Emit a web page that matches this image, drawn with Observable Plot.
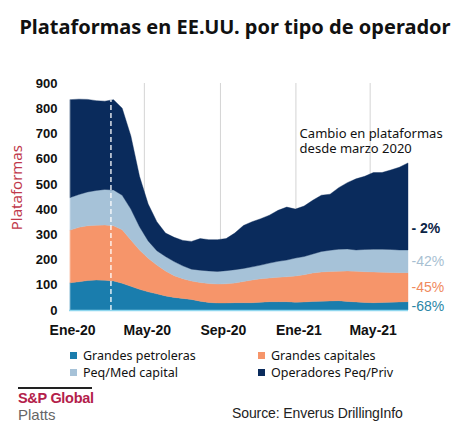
<!DOCTYPE html>
<html><head><meta charset="utf-8">
<script src="https://cdn.jsdelivr.net/npm/d3@7"></script>
<script src="https://cdn.jsdelivr.net/npm/@observablehq/plot@0.6"></script>
<style>
body{margin:0;width:470px;height:430px;position:relative;background:#fff;overflow:hidden;font-family:"Noto Sans",sans-serif}
#title{position:absolute;left:0;top:13px;width:470px;text-align:center;font-weight:700;font-size:20px;color:#111;letter-spacing:0px}
#chart{position:absolute;left:0;top:55px}
.lg{position:absolute;font-size:12.5px;color:#111;line-height:16px;white-space:nowrap}
.lg i{display:inline-block;width:7px;height:7px;margin-right:6px;vertical-align:1px}
#brandline{position:absolute;left:18px;top:387px;width:74px;height:2px;background:#222}
#brand1{position:absolute;left:18px;top:389px;font-family:"Liberation Sans",Arial,sans-serif;font-weight:700;font-size:14.5px;color:#b3204a;line-height:18px;letter-spacing:-0.3px}
#brand2{position:absolute;left:18px;top:406px;font-family:"Liberation Sans",Arial,sans-serif;font-size:15px;color:#666;line-height:18px}
#source{position:absolute;left:232px;top:404px;font-family:"Liberation Sans",Arial,sans-serif;font-size:14px;color:#222;line-height:18px;letter-spacing:-0.1px}
</style></head>
<body>
<div id="title">Plataformas en EE.UU. por tipo de operador</div>
<div id="chart"></div>
<div id="legend"></div>
<div id="brandline"></div>
<div id="brand1">S&amp;P Global</div>
<div id="brand2">Platts</div>
<div id="source">Source: Enverus DrillingInfo</div>
<script>
const series = ["Grandes petroleras","Grandes capitales","Peq/Med capital","Operadores Peq/Priv"];
const colors = ["#1a7dad","#f6956a","#a6c2d8","#0a2b5c"];
const dates = ["2020-01-03","2020-01-17","2020-01-31","2020-02-14","2020-02-28","2020-03-13","2020-03-27","2020-04-10","2020-04-24","2020-05-08","2020-05-22","2020-06-05","2020-06-19","2020-07-03","2020-07-17","2020-07-31","2020-08-14","2020-08-28","2020-09-11","2020-09-25","2020-10-09","2020-10-23","2020-11-06","2020-11-20","2020-12-04","2020-12-18","2021-01-01","2021-01-15","2021-01-29","2021-02-12","2021-02-26","2021-03-12","2021-03-26","2021-04-09","2021-04-23","2021-05-07","2021-05-21","2021-06-04","2021-06-18","2021-07-02"];
const petroleras = [108,112,117,119,118,115,106,94,82,72,64,56,50,46,42,35,30,28,28,29,29,29,31,33,33,33,31,32,34,35,36,37,34,32,30,29,30,31,32,33];
const grandesCapitales = [209,216,217,217,219,219,212,184,156,133,114,99,86,78,73,74,75,75,76,78,84,90,93,94,97,99,104,108,113,116,117,117,121,122,122,122,120,118,116,115];
const peqMedCapital = [129,130,134,138,141,142,137,122,92,69,57,57,56,51,47,49,50,50,52,53,52,52,54,59,63,66,71,72,75,81,84,87,87,84,88,90,91,91,90,90];
const operadoresPeqPriv = [388,378,367,356,350,358,345,290,200,146,115,93,96,101,110,125,124,126,127,145,170,179,184,190,202,210,194,200,213,223,222,244,263,282,290,304,304,315,328,345];
const values = [petroleras, grandesCapitales, peqMedCapital, operadoresPeqPriv];
const yTicks = [0,100,200,300,400,500,600,700,800,900];
const xTicks = ["2020-01-01","2020-05-01","2020-09-01","2021-01-01","2021-05-01"].map(d => new Date(d));
const xTickLabels = ["Ene-20","May-20","Sep-20","Ene-21","May-21"];
const changeLabels = ["-68%","-45%","-42%","- 2%"];
const changeColors = ["#2a86a6","#f08a5d","#a8bfd2","#0b2445"];
const marchDate = "2020-03-08";
const note = "Cambio en plataformas\ndesde marzo 2020";
const yTitle = "Plataformas";

const data = dates.flatMap((d, i) => series.map((s, j) => ({date: new Date(d), series: s, value: values[j][i]})));
const last = dates.length - 1;
const cum = [];
let acc = 0;
values.forEach((v, j) => { cum.push([acc, acc + v[last]]); acc += v[last]; });
const frac = [0.5, 0.5, 0.5, 0.25];
const labels = changeLabels.map((t, j) => ({text: t, color: changeColors[j], date: new Date(dates[last]), y: cum[j][0] + frac[j] * (cum[j][1] - cum[j][0]), bold: j === 3}));
const marchIdx = 5;
const dash = [{date: new Date(marchDate), total: values.reduce((s, v) => s + v[marchIdx], 0)}];

const chart = Plot.plot({
  width: 470, height: 285,
  marginLeft: 69, marginRight: 62, marginTop: 28, marginBottom: 30,
  style: {fontFamily: "'Liberation Sans', Arial, sans-serif", overflow: "visible", color: "#111"},
  x: {type: "utc", domain: [new Date("2020-01-01"), new Date("2021-07-02")]},
  y: {domain: [0, 900]},
  color: {domain: series, range: colors},
  marks: [
    Plot.gridX(xTicks.slice(1), {stroke: "#d4d4d4", strokeOpacity: 1}),
    Plot.areaY(data, {x: "date", y: "value", z: "series", fill: "series", stroke: "series", strokeWidth: 0.4, order: series}),
    Plot.ruleY([0], {stroke: "#8ed6ee", strokeWidth: 1.5}),
    Plot.ruleX(dash, {x: "date", y1: 0, y2: "total", stroke: "white", strokeDasharray: "5,3", strokeWidth: 1.3}),
    Plot.axisY(yTicks, {tickSize: 0, tickPadding: 12, fontSize: 13, fontWeight: "bold", label: null}),
    Plot.axisX(xTicks, {tickSize: 0, tickPadding: 15, fontSize: 14, fontWeight: "bold", label: null, dx: 3,
      tickFormat: d => xTickLabels[xTicks.findIndex(t => +t === +d)]}),
    Plot.text([yTitle], {y: () => 487, frameAnchor: "left", textAnchor: "middle", rotate: -90, dx: -52, text: d => d, fill: "#c0394b", fontSize: 15, fontFamily: "Noto Sans"}),
    Plot.text([note], {x: new Date("2021-01-07"), y: 675, text: d => d, textAnchor: "start", lineAnchor: "middle", lineHeight: 1.18, fontSize: 13, fontFamily: "Noto Sans", fill: "#111"}),
    Plot.text(labels.filter(d => !d.bold), {x: "date", y: "y", text: "text", fill: "color", textAnchor: "start", dx: 3, fontSize: 14}),
    Plot.text(labels.filter(d => d.bold), {x: "date", y: "y", text: "text", fill: "color", textAnchor: "start", dx: 3, fontSize: 14, fontWeight: "bold"})
  ]
});
document.getElementById("chart").append(chart);

const legendPos = [[70, 348], [258, 348], [70, 365], [258, 365]];
const lg = document.getElementById("legend");
series.forEach((s, j) => {
  const el = document.createElement("div");
  el.className = "lg";
  el.style.left = legendPos[j][0] + "px";
  el.style.top = legendPos[j][1] + "px";
  el.innerHTML = `<i style="background:${colors[j]}"></i>${s}`;
  lg.append(el);
});
</script>
</body></html>
